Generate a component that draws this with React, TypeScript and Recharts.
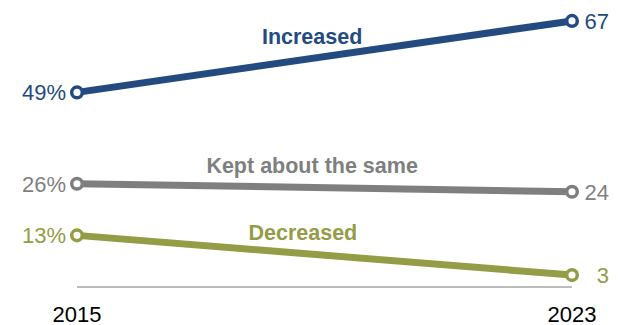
import { LineChart, Line, XAxis, YAxis, LabelList, ReferenceDot } from "recharts";

const years = [2015, 2023];
const increased = [49, 67];
const keptSame = [26, 24];
const decreased = [13, 3];

const data = years.map((year, i) => ({
    year,
    increased: increased[i],
    keptSame: keptSame[i],
    decreased: decreased[i],
}));

// series name + where its caption sits (in data units)
const series = [
    { key: "increased", name: "Increased", color: "#234b80", nameAt: [2018.8, 63] },
    { key: "keptSame", name: "Kept about the same", color: "#7f7f7f", nameAt: [2018.8, 30.6] },
    { key: "decreased", name: "Decreased", color: "#949c46", nameAt: [2018.65, 13.8] },
];

const font = "'Liberation Sans', Arial, sans-serif";

const valueLabel = (color: string) => (props: any) => {
    const { x, y, value, index } = props;
    const first = index === 0;
    return (
        <text
            x={first ? x - 11 : x + 37}
            y={y}
            dy={8}
            textAnchor="end"
            fill={color}
            fontSize={22}
            fontFamily={font}
        >
            {first ? `${value}%` : value}
        </text>
    );
};

const YearTick = (props: any) => {
    const { x, y, payload } = props;
    return (
        <text x={x} y={y + 32.5} textAnchor="middle" fill="#000" fontSize={22} fontFamily={font}>
            {payload.value}
        </text>
    );
};

const nameShape = (text: string, color: string) => (props: any) => (
    <text
        x={props.cx}
        y={props.cy}
        dy={7.5}
        textAnchor="middle"
        fill={color}
        fontSize={21.5}
        fontWeight="bold"
        fontFamily={font}
    >
        {text}
    </text>
);

export default function App() {
    return (
        <div style={{ position: "absolute", left: 0, top: 0, width: 618, height: 325, background: "#fff" }}>
            <LineChart width={618} height={325} data={data} margin={{ top: 9, right: 46, left: 77, bottom: 0 }}>
                <XAxis
                    dataKey="year"
                    type="number"
                    domain={[2015, 2023]}
                    ticks={years}
                    height={38}
                    tickLine={false}
                    tickSize={0}
                    axisLine={{ stroke: "#a6a6a6", strokeWidth: 1.5 }}
                    tick={<YearTick />}
                />
                <YAxis hide domain={[0, 70]} />
                {series.map((s) => (
                    <Line
                        key={s.key}
                        dataKey={s.key}
                        type="linear"
                        stroke={s.color}
                        strokeWidth={7}
                        dot={{ r: 5.3, fill: "#fff", stroke: s.color, strokeWidth: 3.5 }}
                        isAnimationActive={false}
                    >
                        <LabelList dataKey={s.key} content={valueLabel(s.color)} />
                    </Line>
                ))}
                {series.map((s) => (
                    <ReferenceDot
                        key={s.key + "-name"}
                        x={s.nameAt[0]}
                        y={s.nameAt[1]}
                        r={0}
                        shape={nameShape(s.name, s.color)}
                    />
                ))}
            </LineChart>
        </div>
    );
}
